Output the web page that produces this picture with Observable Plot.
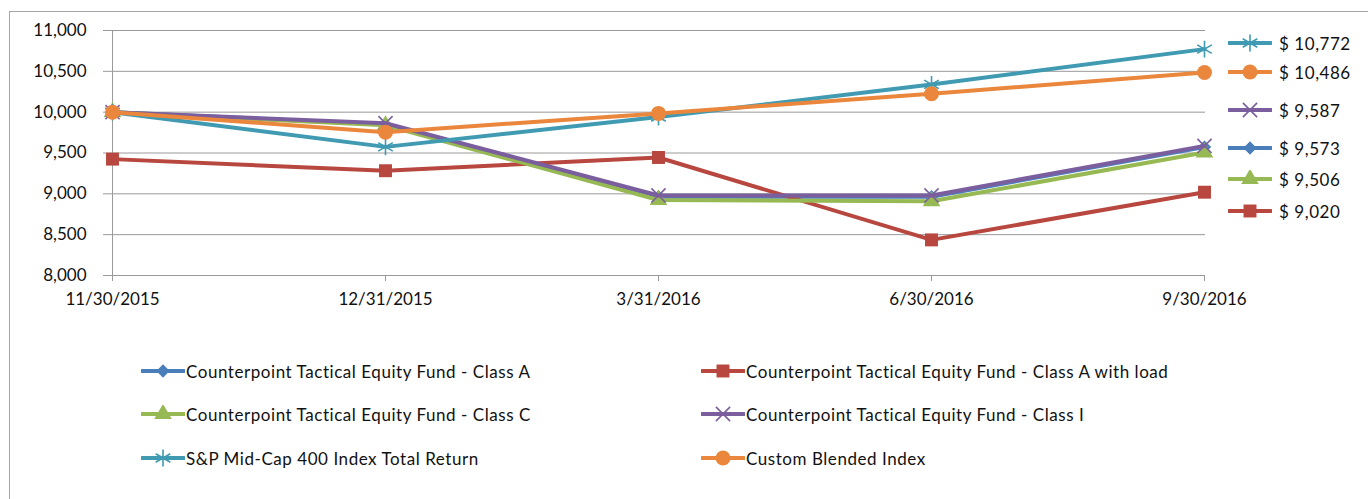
<!DOCTYPE html>
<html><head><meta charset="utf-8">
<script src="https://cdn.jsdelivr.net/npm/d3@7"></script>
<script src="https://cdn.jsdelivr.net/npm/@observablehq/plot@0.6"></script>
<style>
body{margin:0;background:#fff;font-family:Lato,"Open Sans",sans-serif;}
#wrap{position:relative;width:1368px;height:499px;overflow:hidden;background:#fff;}
#frame{position:absolute;left:9px;top:11px;width:1400px;height:600px;border:1px solid #a6a6a6;}
#chart{position:absolute;left:0;top:0;}
.leg{position:absolute;display:flex;align-items:center;height:20px;font-size:17px;letter-spacing:0.55px;color:#111;white-space:nowrap;}
.leg svg{display:block;}
</style></head><body>
<div id="wrap"><div id="frame"></div><div id="chart"></div></div>
<script>
// ---- data ----
const dates = ["11/30/2015", "12/31/2015", "3/31/2016", "6/30/2016", "9/30/2016"];
const classA = [10000, 9850, 8965, 8965, 9573];
const classALoad = [9425, 9283, 9445, 8436, 9020];
const classC = [10000, 9840, 8925, 8910, 9506];
const classI = [10000, 9865, 8980, 8980, 9587];
const spMidCap = [10000, 9575, 9940, 10340, 10772];
const customBlended = [10000, 9755, 9985, 10225, 10486];
const seriesNames = [
  "Counterpoint Tactical Equity Fund - Class A",
  "Counterpoint Tactical Equity Fund - Class A with load",
  "Counterpoint Tactical Equity Fund - Class C",
  "Counterpoint Tactical Equity Fund - Class I",
  "S&P Mid-Cap 400 Index Total Return",
  "Custom Blended Index"
];
const seriesValues = [classA, classALoad, classC, classI, spMidCap, customBlended];
const yTicks = [8000, 8500, 9000, 9500, 10000, 10500, 11000];
// end-value key order (top to bottom)
const endKeyOrder = [4, 5, 3, 0, 2, 1];

// ---- styles ----
const colors = ["#4A7EBB", "#B7473F", "#96B953", "#7B5E9E", "#3F9AB2", "#EA873C"];
const symbols = ["diamond2", "square", "triangle", "times", "asterisk", "circle"];
const d3Symbols = [d3.symbolDiamond2, d3.symbolSquare, d3.symbolTriangle, d3.symbolTimes, d3.symbolAsterisk, d3.symbolCircle];
const radii = [6, 7.3, 6.5, 6.5, 8, 7.5];
const filled = [true, true, true, false, false, true];

const rows = [];
seriesValues.forEach((vals, s) => vals.forEach((v, i) => rows.push({series: s, date: dates[i], value: v})));

const grid = "#9a9a9a";
const marks = [
  Plot.ruleY(yTicks, {stroke: grid, strokeWidth: 1}),
  Plot.ruleX([dates[0]], {stroke: grid, strokeWidth: 1}),
  Plot.axisY({ticks: yTicks, tickFormat: d3.format(","), tickSize: 7, tickPadding: 17, stroke: grid, fontSize: 17, fill: "#111"}),
  Plot.axisX({tickSize: 6, tickPadding: 11, stroke: grid, fontSize: 17, fill: "#111"})
];
seriesValues.forEach((vals, s) => {
  const d = rows.filter(r => r.series === s);
  marks.push(Plot.line(d, {x: "date", y: "value", stroke: colors[s], strokeWidth: 4, strokeLinejoin: "round", curve: "linear"}));
  marks.push(Plot.dot(d, {
    x: "date", y: "value", symbol: symbols[s], r: radii[s],
    fill: filled[s] ? colors[s] : "none",
    stroke: colors[s], strokeWidth: filled[s] ? 0 : 1.6
  }));
});

const chart = Plot.plot({
  width: 1368, height: 320,
  marginLeft: 110, marginRight: 163, marginTop: 30, marginBottom: 45,
  style: {fontFamily: "Lato, 'Open Sans', sans-serif", fontSize: "17px", background: "transparent", overflow: "visible"},
  x: {type: "point", domain: dates, padding: 0, label: null},
  y: {domain: [8000, 11000], label: null},
  marks
});
document.getElementById("chart").appendChild(chart);

// ---- legend keys ----
function swatch(s, w) {
  const svg = d3.create("svg").attr("width", w).attr("height", 18);
  svg.append("line").attr("x1", 1).attr("x2", w - 1).attr("y1", 9).attr("y2", 9)
    .attr("stroke", colors[s]).attr("stroke-width", 4).attr("stroke-linecap", "round");
  svg.append("path")
    .attr("d", d3.symbol(d3Symbols[s], Math.PI * radii[s] * radii[s])())
    .attr("transform", `translate(${w / 2},9)`)
    .attr("fill", filled[s] ? colors[s] : "none")
    .attr("stroke", filled[s] ? "none" : colors[s])
    .attr("stroke-width", 1.6);
  return svg.node();
}
function addKey(s, text, left, cy, gap) {
  const div = document.createElement("div");
  div.className = "leg";
  div.style.left = left + "px";
  div.style.top = (cy - 10) + "px";
  div.appendChild(swatch(s, 44));
  const span = document.createElement("span");
  span.style.marginLeft = gap + "px";
  span.textContent = text;
  div.appendChild(span);
  document.getElementById("wrap").appendChild(div);
}
// bottom legend: two columns, three rows
const bottomCols = [141, 701];
const bottomRows = [371, 414, 458];
seriesNames.forEach((name, s) => addKey(s, name, bottomCols[s % 2], bottomRows[Math.floor(s / 2)], 1));
// right-hand end-value keys
const rightRows = [43, 72, 110, 148, 179, 211];
endKeyOrder.forEach((s, k) => {
  const v = seriesValues[s][seriesValues[s].length - 1];
  addKey(s, "$ " + d3.format(",")(v), 1228, rightRows[k], 7);
});
</script>
</body></html>
